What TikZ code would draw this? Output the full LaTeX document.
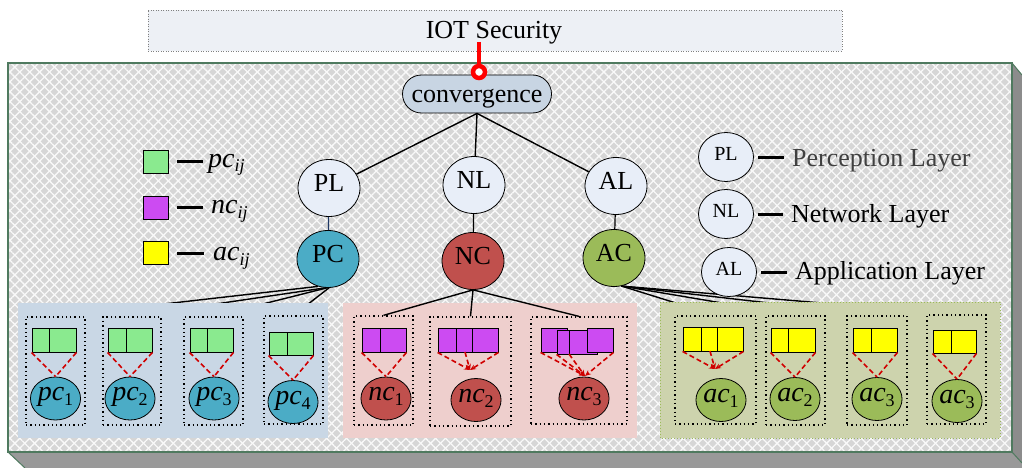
\documentclass[tikz,border=0pt]{standalone}
\usepackage{fontspec}
\setmainfont{Liberation Serif}
\usetikzlibrary{shapes.geometric,shapes.misc,patterns.meta,fit,arrows.meta}
\pgfdeclarelayer{base}\pgfdeclarelayer{lines}\pgfdeclarelayer{panels}
\pgfsetlayers{base,lines,panels,main}
\definecolor{platgray}{HTML}{D6D6D6}
\definecolor{sidegray}{HTML}{999999}
\definecolor{sidedark}{HTML}{8C8C8C}
\definecolor{platedge}{HTML}{4F7A5F}
\definecolor{titlefill}{HTML}{EDF0F5}
\definecolor{convC}{HTML}{C8D5E3}
\definecolor{lblue}{HTML}{E8EEF8}
\definecolor{pcC}{HTML}{4BACC6}
\definecolor{ncC}{HTML}{C0504D}
\definecolor{acC}{HTML}{9BBB59}
\definecolor{gC}{HTML}{8AEA8F}
\definecolor{vC}{HTML}{CC4BF2}
\definecolor{yC}{HTML}{FFFF00}
\definecolor{bpanel}{HTML}{C9D7E5}
\definecolor{ppanel}{HTML}{EECFCD}
\definecolor{gpanel}{HTML}{CDD3AD}
\definecolor{dgray}{HTML}{404040}
\definecolor{rdash}{HTML}{D00000}
\definecolor{plpc}{HTML}{1F3864}
\newcommand{\sublab}[2]{\textit{#1}\raisebox{-5pt}{\fontsize{18}{18}\selectfont #2}}
\tikzset{
  tree/.style={line width=1.4pt},
  bigc/.style={ellipse, draw, line width=0.8pt, minimum width=62pt, minimum height=57pt, inner sep=0pt,
    font=\fontsize{26}{26}\selectfont, text height=0.66em, text depth=0pt},
  legc/.style={ellipse, draw, line width=0.8pt, fill=lblue, minimum width=55pt, minimum height=49pt, inner sep=0pt,
    font=\fontsize{20}{20}\selectfont, text height=0.66em, text depth=0pt},
  smalle/.style={ellipse, draw, line width=0.8pt, minimum width=47pt, minimum height=43pt, inner sep=0pt,
    font=\fontsize{28}{28}\selectfont, text height=0.45em, text depth=0pt},
  dotbox/.style={draw, line width=1.3pt, dash pattern=on 1.3pt off 3pt, inner sep=0pt},
  cellbox/.style={draw, line width=0.9pt, inner sep=0pt},
  cellline/.style={line width=0.9pt},
  reddash/.style={draw=rdash, line width=1.6pt, dash pattern=on 5pt off 3pt},
  redarrow/.style={reddash, -{Stealth[length=6pt,width=5pt]}},
  legdash/.style={line width=3pt},
  sq/.style={draw, line width=0.8pt, minimum width=25pt, minimum height=23pt, inner sep=0pt},
  legtext/.style={anchor=base west, inner sep=0pt, font=\fontsize{26}{26}\selectfont},
  legsym/.style={anchor=base west, inner sep=0pt, font=\fontsize{28}{28}\selectfont},
}
\begin{document}
\begin{tikzpicture}[x=1pt,y=-1pt]
\useasboundingbox (0,0) rectangle (1022,468);
% ---------- platform ----------
\begin{pgfonlayer}{base}
\fill[sidegray] (8,452) -- (1012,452) -- (1022,463) -- (1022,468) -- (25,468) -- cycle;
\fill[sidedark] (1012,63) -- (1022,75) -- (1022,463) -- (1012,452) -- cycle;
\fill[platgray] (8,63) rectangle (1012,452);
\fill[pattern={Lines[angle=45,distance=7pt,line width=1.3pt]}, pattern color=white!85!platgray] (8,63) rectangle (1012,452);
\fill[pattern={Lines[angle=-45,distance=7pt,line width=1.3pt]}, pattern color=white!85!platgray] (8,63) rectangle (1012,452);
\draw[platedge, line width=1.3pt] (8,452) -- (8,63) -- (1012,63) -- (1012,452) -- cycle;
\draw[platedge, line width=1pt] (1012,63) -- (1022,75);
\draw[platedge, line width=1pt] (1012,452) -- (1022,463);
\draw[platedge, line width=1pt] (8,452) -- (25,468);
\end{pgfonlayer}
% ---------- panels ----------
\begin{pgfonlayer}{panels}
\fill[bpanel] (18,303) rectangle (328,438);
\fill[ppanel] (343,303) rectangle (637,438);
\fill[gpanel] (660,302) rectangle (1000,438);
\draw[acC, line width=0.9pt, dash pattern=on 1pt off 2pt] (660,302) rectangle (1000,438);
\end{pgfonlayer}
% ---------- title ----------
\node[fit={(148,10) (842,51)}, inner sep=0pt, fill=titlefill, draw=gray, line width=0.8pt, dash pattern=on 1pt off 1.5pt] (tbox) {};
\node[anchor=base, inner sep=0pt, font=\fontsize{26}{26}\selectfont] (ttl) at (494,39) {IOT Security};
% ---------- tree ----------
\node[rounded rectangle, draw, line width=0.8pt, fill=convC, minimum width=149pt, minimum height=38pt, inner sep=0pt,
  font=\fontsize{26}{26}\selectfont, text height=22pt, text depth=4pt] (conv) at (477,94) {convergence};
\coordinate (rtop) at (479,42);
\draw[red, line width=4.5pt] (rtop) -- (479,66);
\node[circle, draw=red, fill=white, line width=4.5pt, minimum size=12pt, inner sep=0pt] (rdot) at (479,72) {};
\node[bigc, fill=lblue] (PL) at (329,188) {PL};
\node[bigc, fill=lblue] (NL) at (474,185) {NL};
\node[bigc, fill=lblue] (AL) at (616,186) {AL};
\node[bigc, fill=pcC] (PC) at (328,259) {PC};
\node[bigc, fill=ncC] (NC) at (473,261) {NC};
\node[bigc, fill=acC] (AC) at (614,258) {AC};
\draw[tree] (conv.south) -- (PL);
\draw[tree] (conv.south) -- (NL);
\draw[tree] (conv.south) -- (AL);
\draw[plpc, line width=1.2pt] (PL) -- (PC);
\draw[line width=1.2pt] (NL) -- (NC);
\draw[line width=1.2pt] (AL) -- (AC);
% ---------- left legend ----------
\node[sq, fill=gC] (sqP) at (155.5,161.5) {};
\node[sq, fill=vC] (sqN) at (155.5,207.5) {};
\node[sq, fill=yC] (sqA) at (155.5,253) {};
\node[legsym] (tpc) at (208,167) {\sublab{pc}{\itshape ij}};
\node[legsym] (tnc) at (211,213) {\sublab{nc}{\itshape ij}};
\node[legsym] (tac) at (213,260) {\sublab{ac}{\itshape ij}};
\draw[legdash, shorten <=9pt, shorten >=5pt] (sqP.east) -- (sqP.east -| tpc.west);
\draw[legdash, shorten <=9pt, shorten >=8pt] (sqN.east) -- (sqN.east -| tnc.west);
\draw[legdash, shorten <=9pt, shorten >=9pt] (sqA.east) -- (sqA.east -| tac.west);
% ---------- right legend ----------
\node[legc] (lPL) at (726,157) {PL};
\node[legc] (lNL) at (726,214) {NL};
\node[legc] (lAL) at (729,272) {AL};
\node[legtext, text=dgray] (tPL) at (792,166) {Perception Layer};
\node[legtext] (tNL) at (791,222) {Network Layer};
\node[legtext] (tAL) at (795,279) {Application Layer};
\draw[legdash, shorten <=4pt, shorten >=8pt] (lPL.east) -- (lPL.east -| tPL.west);
\draw[legdash, shorten <=4pt, shorten >=8pt] (lNL.east) -- (lNL.east -| tNL.west);
\draw[legdash, shorten <=4pt, shorten >=8pt] (lAL.east) -- (lAL.east -| tAL.west);
% ---------- PC group ----------
\node[dotbox, fit={(26,317) (85,425)}] (bp1) {};
\node[dotbox, fit={(103,317) (161,425)}] (bp2) {};
\node[dotbox, fit={(184,317) (243,425)}] (bp3) {};
\node[dotbox, fit={(264,316) (323,424)}] (bp4) {};
\node[cellbox, fill=gC, fit={(32,328) (76,352)}] (rp1) {};
\node[cellbox, fill=gC, fit={(108,328) (152,352)}] (rp2) {};
\node[cellbox, fill=gC, fit={(190,328) (233,352)}] (rp3) {};
\node[cellbox, fill=gC, fit={(269,332) (313,355)}] (rp4) {};
\draw[cellline] (49,328) -- (49,352);
\draw[cellline] (126,328) -- (126,352);
\draw[cellline] (207,328) -- (207,352);
\draw[cellline] (287,332) -- (287,355);
\node[smalle, fill=pcC] (pc1) at (55.5,398.5) {\sublab{pc}{1}};
\node[smalle, fill=pcC] (pc2) at (130,398.5) {\sublab{pc}{2}};
\node[smalle, fill=pcC] (pc3) at (214,398.5) {\sublab{pc}{3}};
\node[smalle, fill=pcC] (pc4) at (293,402) {\sublab{pc}{4}};
\foreach \i in {1,2,3,4}{
  \draw[reddash] (rp\i.south west) -- (pc\i.north);
  \draw[reddash] (rp\i.south east) -- (pc\i.north);
}
\begin{pgfonlayer}{lines}
\draw[tree] (PC.250) -- (bp1.north);
\draw[tree] (PC.265) -- (bp2.north);
\draw[tree] (PC.268) -- (bp3.north);
\draw[tree] (PC.272) -- (bp4.north);
\end{pgfonlayer}
% ---------- NC group ----------
\node[dotbox, fit={(354,316) (413,425)}] (bn1) {};
\node[dotbox, fit={(430,317) (511,426)}] (bn2) {};
\node[dotbox, fit={(531,317) (627,424)}] (bn3) {};
\node[cellbox, fill=vC, fit={(362,328) (406,352)}] (rn1) {};
\draw[cellline] (380,328) -- (380,352);
\node[cellbox, fill=vC, fit={(438,328) (498,352)}] (rn2) {};
\draw[cellline] (456,328) -- (456,352);
\draw[cellline] (472,328) -- (472,352);
\node[cellbox, fill=vC, fit={(541,328) (567,352)}] (rn3a) {};
\node[cellbox, fill=vC, fit={(557,330) (597,354)}] (rn3b) {};
\draw[cellline] (569,330) -- (569,354);
\node[cellbox, fill=vC, fit={(587,328) (613,352)}] (rn3c) {};
\node[smalle, fill=ncC] (nc1) at (386,398.5) {\sublab{nc}{1}};
\node[smalle, fill=ncC] (nc2) at (476,400) {\sublab{nc}{2}};
\node[smalle, fill=ncC] (nc3) at (584,398.5) {\sublab{nc}{3}};
\draw[reddash] (rn1.south west) -- (nc1.north);
\draw[reddash] (rn1.south east) -- (nc1.north);
\coordinate (n2t) at (470,370);
\coordinate (n2m) at (465,352);
\draw[redarrow] (rn2.south west) -- (n2t);
\draw[redarrow] (n2m) -- (n2t);
\draw[redarrow] (rn2.south east) -- (n2t);
\coordinate (n3t) at (585,376);
\coordinate (n3m) at (569,354);
\draw[redarrow] (rn3a.south west) -- (n3t);
\draw[redarrow] (rn3b.south west) -- (n3t);
\draw[redarrow] (n3m) -- (n3t);
\draw[redarrow] (rn3c.south east) -- (n3t);
\draw[tree] (NC.south) -- (bn1.north);
\draw[tree] (NC.south) -- (bn2.north);
\draw[tree] (NC.south) -- (bn3.north);
% ---------- AC group ----------
\node[dotbox, fit={(675,316) (756,424)}] (ba1) {};
\node[dotbox, fit={(766,316) (825,425)}] (ba2) {};
\node[dotbox, fit={(847,316) (907,425)}] (ba3) {};
\node[dotbox, fit={(927,315) (986,424)}] (ba4) {};
\node[cellbox, fill=yC, fit={(683,327) (743,351)}] (ra1) {};
\draw[cellline] (701,327) -- (701,351);
\draw[cellline] (717,327) -- (717,351);
\node[cellbox, fill=yC, fit={(771,328) (815,352)}] (ra2) {};
\draw[cellline] (788,328) -- (788,352);
\node[cellbox, fill=yC, fit={(853,328) (897,352)}] (ra3) {};
\draw[cellline] (871,328) -- (871,352);
\node[cellbox, fill=yC, fit={(933,330) (976,353)}] (ra4) {};
\draw[cellline] (951,330) -- (951,353);
\node[smalle, fill=acC] (ac1) at (721,400) {\sublab{ac}{1}};
\node[smalle, fill=acC] (ac2) at (795,399) {\sublab{ac}{2}};
\node[smalle, fill=acC] (ac3) at (877,399) {\sublab{ac}{3}};
\node[smalle, fill=acC] (ac4) at (957,401) {\sublab{ac}{3}};
\coordinate (a1t) at (715,369);
\coordinate (a1m) at (710,351);
\draw[redarrow] (ra1.south west) -- (a1t);
\draw[redarrow] (a1m) -- (a1t);
\draw[redarrow] (ra1.south east) -- (a1t);
\foreach \i in {2,3,4}{
  \draw[reddash] (ra\i.south west) -- (ac\i.north);
  \draw[reddash] (ra\i.south east) -- (ac\i.north);
}
\begin{pgfonlayer}{lines}
\draw[tree] (AC.285) -- (ba1.north);
\draw[tree] (AC.285) -- (ba2.north);
\draw[tree] (AC.285) -- (ba3.north);
\draw[tree] (AC.285) -- (ba4.north);
\end{pgfonlayer}
\end{tikzpicture}
\end{document}
